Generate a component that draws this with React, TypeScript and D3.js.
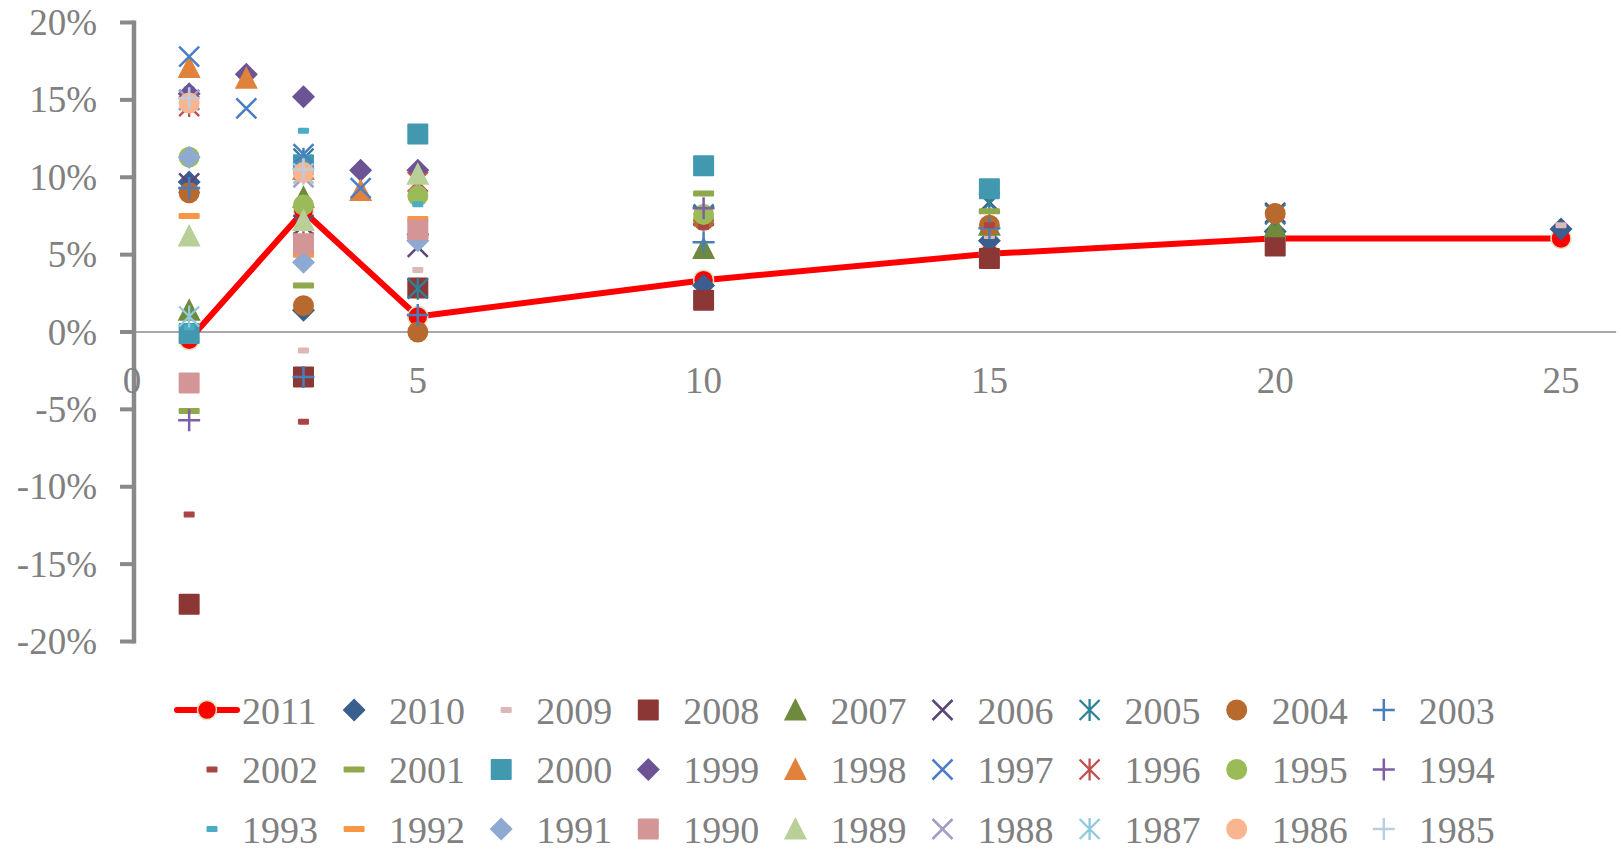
import React from "react";
import * as d3 from "d3";

// horizon (years) on the x axis
const horizons = [1, 2, 3, 4, 5, 10, 15, 20, 25];

const years = [
  "2011", "2010", "2009", "2008", "2007", "2006", "2005", "2004", "2003",
  "2002", "2001", "2000", "1999", "1998", "1997", "1996", "1995", "1994",
  "1993", "1992", "1991", "1990", "1989", "1988", "1987", "1986", "1985",
];

// annual returns in %, one entry per horizon (null = no point)
const r2011 = [-0.5, null, 7.8, null, 1.0, 3.35, 5.05, 6.05, 6.05];
const r2010 = [9.7, null, 1.4, null, null, 3.0, 5.9, 6.5, 6.65];
const r2009 = [15.7, null, -1.2, null, 4.0, null, 6.2, null, 6.9];
const r2008 = [-17.6, null, -2.9, null, 2.85, 2.05, 4.75, 5.55, null];
const r2007 = [1.4, null, 8.7, null, null, 5.4, 6.9, 6.8, null];
const r2006 = [9.6, null, 6.9, null, 5.5, 7.5, 8.4, 7.7, null];
const r2005 = [15.0, null, 11.2, null, 2.8, 7.6, 8.3, 7.6, null];
const r2004 = [9.0, null, 1.7, null, 0.0, 7.2, 6.9, 7.65, null];
const r2003 = [9.3, null, -2.9, null, 1.1, 5.8, 6.7, null, null];
const r2002 = [-11.8, null, -5.8, null, null, 6.8, 6.9, null, null];
const r2001 = [-5.1, null, 3.0, null, null, 8.95, 7.8, null, null];
const r2000 = [-0.1, null, 10.8, null, 12.8, 10.75, 9.25, null, null];
const r1999 = [15.4, 16.65, 15.2, 10.45, 10.45, null, null, null, null];
const r1998 = [17.1, 16.4, 10.5, 9.15, null, null, null, null, null];
const r1997 = [17.8, 14.45, 11.5, 9.3, null, null, null, null, null];
const r1996 = [14.6, null, 5.8, null, 9.7, null, null, null, null];
const r1995 = [11.3, null, 8.2, null, 8.8, 7.6, null, null, null];
const r1994 = [-5.7, null, null, null, 6.3, 8.0, null, null, null];
const r1993 = [0.3, null, 13.0, null, 8.25, null, null, null, null];
const r1992 = [7.5, null, 5.0, null, 7.3, null, null, null, null];
const r1991 = [11.3, null, 4.5, null, 5.9, null, null, null, null];
const r1990 = [-3.3, null, 5.7, null, 6.6, null, null, null, null];
const r1989 = [6.2, null, 7.2, null, 10.2, null, null, null, null];
const r1988 = [15.0, null, 10.0, null, null, null, null, null, null];
const r1987 = [1.0, null, 10.25, null, null, null, null, null, null];
const r1986 = [14.8, null, 10.3, null, null, null, null, null, null];
const r1985 = [15.1, null, 10.5, null, null, null, null, null, null];

const seriesValues = [
  r2011, r2010, r2009, r2008, r2007, r2006, r2005, r2004, r2003,
  r2002, r2001, r2000, r1999, r1998, r1997, r1996, r1995, r1994,
  r1993, r1992, r1991, r1990, r1989, r1988, r1987, r1986, r1985,
];

const colors = [
  "#ff0000", "#3a5f8f", "#dcb8b8", "#8b3736", "#6f8a3d", "#5c4677", "#2d8199", "#b86a2e", "#4a7ebb",
  "#ab4543", "#8ea84b", "#4198af", "#6c5395", "#e0823c", "#4a7ec4", "#c0504d", "#9bbb59", "#7e5fa7",
  "#4bacc6", "#f79646", "#8eaad3", "#d39595", "#b9cf98", "#a69cc5", "#8fcadc", "#f8b58f", "#b9cde5",
];

const shapes = [
  "line", "diamond", "small", "square", "triangle", "x", "star", "circle", "plus",
  "small", "dash", "square", "diamond", "triangle", "x", "star", "circle", "plus",
  "small", "dash", "diamond", "square", "triangle", "x", "star", "circle", "plus",
];

const yTicks = [-20, -15, -10, -5, 0, 5, 10, 15, 20];
const xTicks = [0, 5, 10, 15, 20, 25];

const W = 1621;
const H = 850;
const FONT = "'Liberation Serif', 'Times New Roman', serif";
const GREY = "#808080";

function Marker({ shape, color, x, y }: { shape: string; color: string; x: number; y: number }) {
  const t = `translate(${x},${y})`;
  switch (shape) {
    case "diamond":
      return <path transform={t} d="M0,-11.5L11.5,0L0,11.5L-11.5,0Z" fill={color} />;
    case "square":
      return <rect x={x - 10.5} y={y - 10.5} width={21} height={21} rx={1} fill={color} />;
    case "triangle":
      return <path transform={t} d="M0,-12L11.5,10.5L-11.5,10.5Z" fill={color} />;
    case "circle":
      return <circle cx={x} cy={y} r={10.5} fill={color} />;
    case "x":
      return (
        <path transform={t} d="M-10,-10L10,10M10,-10L-10,10" stroke={color} strokeWidth={2.5} fill="none" />
      );
    case "star":
      return (
        <path
          transform={t}
          d="M-10,-10L10,10M10,-10L-10,10M0,-11L0,11"
          stroke={color}
          strokeWidth={2.3}
          fill="none"
        />
      );
    case "plus":
      return <path transform={t} d="M-11,0L11,0M0,-11L0,11" stroke={color} strokeWidth={2.5} fill="none" />;
    case "dash":
      return <rect x={x - 10.5} y={y - 3} width={21} height={6} rx={1} fill={color} />;
    case "small":
      return <rect x={x - 5.5} y={y - 3} width={11} height={6} rx={1} fill={color} />;
    default:
      return null;
  }
}

export default function App() {
  const x = d3.scaleLinear().domain([0, 26]).range([132, 132 + 26 * 57.16]);
  const y = d3.scaleLinear().domain([-20, 20]).range([641.5, 22.5]);

  // Excel connects across the gaps, so only keep the points that exist
  const linePts = horizons
    .map((h, i) => [h, r2011[i]] as [number, number | null])
    .filter((p) => p[1] != null) as [number, number][];
  const line = d3
    .line<[number, number]>()
    .x((d) => x(d[0]))
    .y((d) => y(d[1]));

  const axisX = x(0) + 2;
  const legendLabelX = (c: number) => 242 + c * 147.1;
  const legendRowY = (r: number) => 710 + r * 59.5;

  return (
    <svg
      width={W}
      height={H}
      style={{ position: "absolute", left: 0, top: 0, display: "block", background: "#fff" }}
      fontFamily={FONT}
    >
      {/* x axis line at 0% */}
      <line x1={axisX} x2={x(26) - 2} y1={y(0)} y2={y(0)} stroke="#8c8c8c" strokeWidth={1.6} />

      {/* y axis */}
      <line x1={axisX} x2={axisX} y1={y(20) - 2} y2={y(-20) + 2} stroke="#898989" strokeWidth={4.5} />
      {yTicks.map((t) => (
        <g key={t}>
          <line x1={axisX - 14} x2={axisX} y1={y(t)} y2={y(t)} stroke="#898989" strokeWidth={4} />
          <text x={97} y={y(t) + 12.5} textAnchor="end" fontSize={37} fill={GREY}>
            {`${t}%`}
          </text>
        </g>
      ))}

      {/* x tick labels */}
      {xTicks.map((t) => (
        <text key={t} x={x(t)} y={393} textAnchor="middle" fontSize={37} fill={GREY}>
          {t}
        </text>
      ))}

      {/* 2011 line first, older years drawn on top */}
      <path d={line(linePts) || ""} fill="none" stroke="#ff0000" strokeWidth={6} strokeLinejoin="round" />
      {linePts.map((p, i) => (
        <circle key={i} cx={x(p[0])} cy={y(p[1])} r={10} fill="#ff0000" stroke="#d7e4bd" strokeWidth={1.5} />
      ))}

      {seriesValues.slice(1).map((vals, si) => (
        <g key={years[si + 1]}>
          {vals.map((v, i) =>
            v == null ? null : (
              <Marker key={i} shape={shapes[si + 1]} color={colors[si + 1]} x={x(horizons[i])} y={y(v)} />
            )
          )}
        </g>
      ))}

      {/* legend */}
      {years.map((yr, i) => {
        const r = Math.floor(i / 9);
        const c = i % 9;
        const lx = legendLabelX(c);
        const ly = legendRowY(r);
        const mx = lx - 35;
        return (
          <g key={yr}>
            {shapes[i] === "line" ? (
              <g>
                <line x1={mx - 30} x2={mx + 30} y1={ly} y2={ly} stroke="#ff0000" strokeWidth={6} strokeLinecap="round" />
                <ellipse cx={mx} cy={ly} rx={9.5} ry={9.5} fill="#ff0000" stroke="#d7e4bd" strokeWidth={1.5} />
              </g>
            ) : (
              <Marker shape={shapes[i]} color={colors[i]} x={mx + (shapes[i] === "small" ? 5 : 0)} y={ly} />
            )}
            <text x={lx} y={ly + 13.5} fontSize={38} fill={GREY}>
              {yr}
            </text>
          </g>
        );
      })}
    </svg>
  );
}
